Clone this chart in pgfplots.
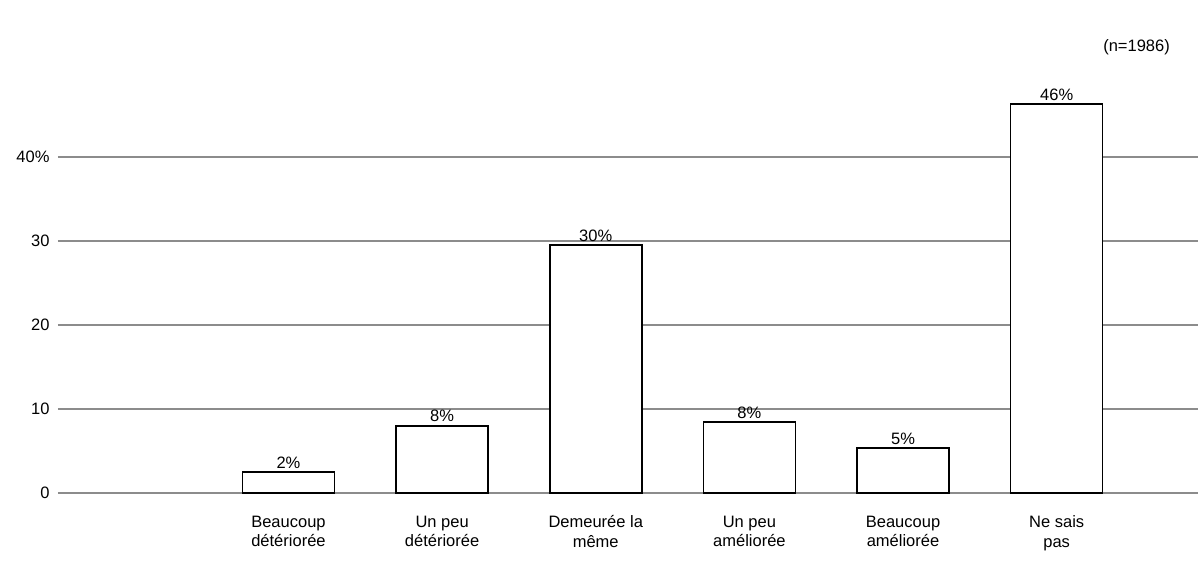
\documentclass[border=0pt]{standalone}
\usepackage{fontspec}
\setmainfont{Liberation Sans}
\usepackage{pgfplots}
\pgfplotsset{compat=1.18}
\begin{document}
\begin{tikzpicture}[x=1pt,y=1pt]
\useasboundingbox (0,0) rectangle (1198,561);
\begin{axis}[
  at={(58pt,68pt)}, anchor=south west,
  scale only axis, width=1140pt, height=420pt,
  xmin=-1.5, xmax=5.92, ymin=0, ymax=50,
  ybar, bar width=92pt, bar shift=0pt,
  axis line style={draw=none}, tick style={draw=none},
  ytick={0,10,20,30,40}, yticklabels={0,10,20,30,40\%},
  ymajorgrids, grid style={color=black!45, line width=1.3pt},
  xtick={0,1,2,3,4,5},
  xticklabels={{Beaucoup\\détériorée},{Un peu\\détériorée},{Demeurée la\\même},{Un peu\\améliorée},{Beaucoup\\améliorée},{Ne sais\\pas}},
  xticklabel style={align=center, font=\fontsize{16.5}{19.5}\selectfont, yshift=-15pt},
  yticklabel style={font=\fontsize{16.5}{19}\selectfont, xshift=-5pt},
  nodes near coords, point meta=explicit symbolic,
  nodes near coords style={font=\fontsize{16.5}{19}\selectfont, inner sep=3pt},
  clip=false,
]
\addplot[draw=black, fill=white, line width=1.6pt] coordinates {
  (0,2.5) [2\%]
  (1,8.0) [8\%]
  (2,29.5) [30\%]
  (3,8.45) [8\%]
  (4,5.35) [5\%]
  (5,46.3) [46\%]
};
\end{axis}
\node[anchor=east, font=\fontsize{16.5}{19}\selectfont, inner sep=0pt] at (1170,514) {(n=1986)};
\end{tikzpicture}
\end{document}
